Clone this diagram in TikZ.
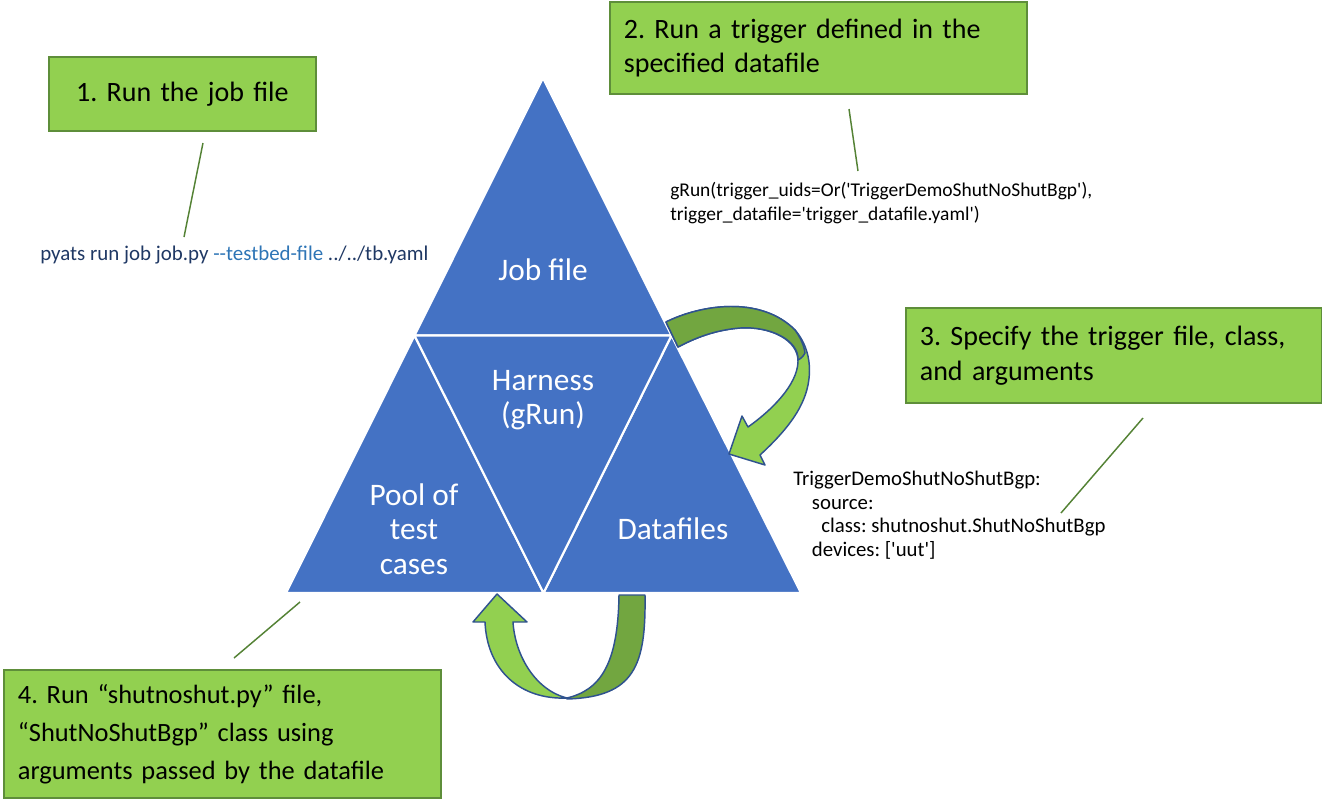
\documentclass[tikz,border=0pt]{standalone}
\usepackage{fontspec}
\setmainfont{Carlito}[Ligatures=TeXOff]
\frenchspacing
\definecolor{triblue}{HTML}{4472C4}
\definecolor{boxgreen}{HTML}{92D050}
\definecolor{boxline}{HTML}{5E8E3A}
\definecolor{lnk}{HTML}{548235}
\definecolor{darkband}{HTML}{72A640}
\definecolor{arrline}{HTML}{2F528F}
\definecolor{navy}{HTML}{1F3864}
\definecolor{cmdblue}{HTML}{2E75B6}
\tikzset{
  tri/.style={fill=triblue, draw=white, line width=1.6pt, line join=miter},
  trilabel/.style={text=white, align=center, font=\fontsize{23.5}{26}\selectfont, inner sep=0pt},
  callout/.style={draw=boxline, fill=boxgreen, line width=1.3pt, anchor=north west,
     font=\fontsize{21}{26}\selectfont, inner xsep=10.5pt, inner ysep=0pt},
  smalltext/.style={inner sep=0pt, anchor=west, align=left},
  leader/.style={draw=lnk, line width=1.1pt},
  lightarr/.style={fill=boxgreen, draw=arrline, line width=1.1pt, line join=round},
  darkarr/.style={fill=darkband, draw=arrline, line width=1.1pt, line join=round}
}
\begin{document}
\begin{tikzpicture}[x=0.75pt,y=-0.75pt]
\useasboundingbox (0,0) rectangle (1322,804);
% triangle corners
\coordinate (A) at (543,78);
\coordinate (L) at (286,593);
\coordinate (R) at (801,593);
\coordinate (ML) at (414.5,335.5);
\coordinate (MR) at (671.5,335.5);
\coordinate (MB) at (543.5,593);
\path[tri] (A) -- (MR) -- (ML) -- cycle;
\path[tri] (ML) -- (MB) -- (L) -- cycle;
\path[tri] (MR) -- (R) -- (MB) -- cycle;
\path[tri] (ML) -- (MR) -- (MB) -- cycle;
\node[trilabel] (job) at (543,270) {Job file};
\node[trilabel, font=\fontsize{23.5}{25.5}\selectfont] (harness) at (543,400) {Harness\\(gRun)};
\node[trilabel] (pool) at (414,529) {Pool of\\test\\cases};
\node[trilabel] (data) at (673,529) {Datafiles};

% curved arrow top right
\path[lightarr] (666,322) .. controls (700,305) and (760,295) .. (795,330)
  .. controls (808,345) and (812,365) .. (808,385)
  .. controls (803,410) and (785,432) .. (760,455)
  -- (765,465) -- (729,454) -- (742,416) -- (748,427)
  .. controls (772,410) and (797,385) .. (798,362)
  .. controls (799,340) and (770,326) .. (740,328)
  .. controls (715,330) and (695,338) .. (678,347) -- cycle;
\path[darkarr] (666,322) .. controls (700,305) and (760,295) .. (795,330)
  .. controls (800,337) and (804,345) .. (805,353)
  .. controls (803,357) and (800,359) .. (798,360)
  .. controls (799,340) and (770,326) .. (740,328)
  .. controls (715,330) and (695,338) .. (678,347) -- cycle;

% curved arrow bottom
\path[darkarr] (567,698) .. controls (600,690) and (618,665) .. (619,595)
  -- (645,595) .. controls (646,665) and (635,697) .. (567,699) -- cycle;
\path[lightarr] (497,594) -- (527,622) -- (513,622)
  .. controls (515,655) and (535,690) .. (567,698)
  .. controls (520,700) and (487,670) .. (485,622)
  -- (473,622) -- cycle;

% callout boxes
\node[callout, minimum width=200.25pt, minimum height=55.5pt, align=center,
      text width=179.25pt] (c1) at (48,56) {1. Run the job file};
\node[callout, minimum width=312.75pt, minimum height=69pt, align=left,
      text width=291.75pt] (c2) at (609,1) {2. Run a trigger defined in the\\specified datafile};
\node[callout, minimum width=312pt, minimum height=71.25pt, align=left,
      text width=291pt] (c3) at (905,307) {3. Specify the trigger file, class,\\and arguments};
\node[callout, minimum width=327.75pt, minimum height=96pt, align=left,
      text width=306.75pt, font=\fontsize{19.8}{28.5}\selectfont] (c4) at (3,669)
      {4. Run “shutnoshut.py” file,\\“ShutNoShutBgp” class using\\arguments passed by the datafile};

% annotation texts
\node[smalltext, text=navy, font=\fontsize{15.7}{18}\selectfont] (cmd) at (40,255)
  {pyats run job job.py {\color{cmdblue}--testbed-file} ../../tb.yaml};
\node[smalltext, font=\fontsize{14.6}{18}\selectfont] (grun) at (670,203)
  {gRun(trigger\_uids=Or('TriggerDemoShutNoShutBgp'),\\trigger\_datafile='trigger\_datafile.yaml')};
\node[smalltext, font=\fontsize{15.6}{17.6}\selectfont] (yaml) at (793,515)
  {TriggerDemoShutNoShutBgp:\\\hspace*{14pt}source:\\\hspace*{21pt}class: shutnoshut.ShutNoShutBgp\\\hspace*{14pt}devices: ['uut']};

% leader lines
\coordinate (l1a) at (203,143); \coordinate (l1b) at (184,237);
\coordinate (l2a) at (849,109); \coordinate (l2b) at (858,171);
\coordinate (l3a) at (1143,418); \coordinate (l3b) at (1061,513);
\coordinate (l4a) at (300,602); \coordinate (l4b) at (234,658);
\path[leader] (l1a) -- (l1b);
\path[leader] (l2a) -- (l2b);
\path[leader] (l3a) -- (l3b);
\path[leader] (l4a) -- (l4b);
\end{tikzpicture}
\end{document}
